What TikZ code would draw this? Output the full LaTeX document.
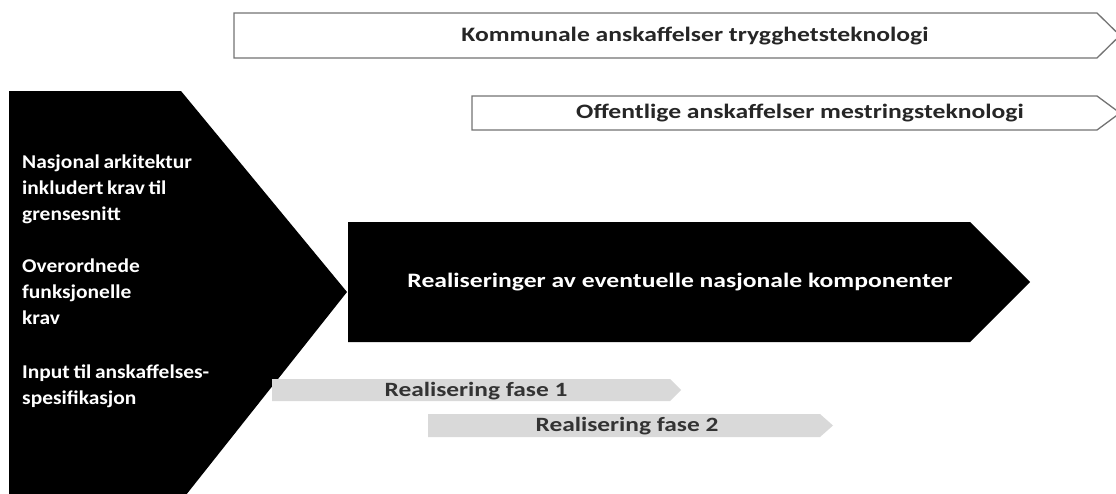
\documentclass[tikz,border=0pt]{standalone}
\usepackage{fontspec}
\setmainfont{Carlito}[FakeStretch=1.25]
\newfontfamily\sidefont{Carlito}[FakeStretch=1.1,WordSpace=0.75]
\begin{document}
\begin{tikzpicture}[x=1pt,y=-1pt,
  outlinearrow/.style={draw=black!55,line width=1.3pt,fill=white},
  blackshape/.style={fill=black},
  greyarrow/.style={fill=black!15},
  darklabel/.style={font=\bfseries\fontsize{20.5}{24}\selectfont,text=black!85,inner sep=0pt},
  lightlabel/.style={font=\bfseries\fontsize{20.5}{24}\selectfont,text=white,inner sep=0pt},
  sidelabel/.style={font=\sidefont\bfseries\fontsize{19.5}{25.8}\selectfont,text=white,align=left,anchor=north west,inner sep=0pt},
  phaselabel/.style={font=\bfseries\fontsize{20.3}{24}\selectfont,text=black!80,inner sep=0pt}]
\useasboundingbox (0,0) rectangle (1116,493);
\begin{scope}
\clip (0,0) rectangle (1116,493);
% upper procurement bands
\draw[outlinearrow] (234,13) -- (1097,13) -- (1120,35.5) -- (1097,58) -- (234,58) -- cycle;
\draw[outlinearrow] (472,96) -- (1097,96) -- (1120,113) -- (1097,130) -- (472,130) -- cycle;
% national input chevron
\fill[blackshape] (9,91) -- (181,91) -- (347,292) -- (182,500) -- (9,500) -- cycle;
% national components
\fill[blackshape] (348,222) -- (970,222) -- (1030,282) -- (970,342) -- (348,342) -- cycle;
% realisation phases
\fill[greyarrow] (272,379) -- (670,379) -- (681,390) -- (670,401) -- (272,401) -- cycle;
\fill[greyarrow] (428,414) -- (820,414) -- (833,425.5) -- (820,437) -- (428,437) -- cycle;
\end{scope}
\node[darklabel] (kommunal) at (695,36) {Kommunale anskaffelser trygghetsteknologi};
\node[darklabel] (offentlig) at (800,113) {Offentlige anskaffelser mestringsteknologi};
\node[sidelabel] (arkitektur) at (22,155) {Nasjonal arkitektur\\inkludert krav til\\grensesnitt};
\node[sidelabel] (funksjonell) at (22,259) {Overordnede\\funksjonelle\\krav};
\node[sidelabel] (input) at (22,365) {Input til anskaffelses-\\spesifikasjon};
\node[lightlabel] (komponenter) at (680,282) {Realiseringer av eventuelle nasjonale komponenter};
\node[phaselabel] (fase1) at (476,391) {Realisering fase 1};
\node[phaselabel] (fase2) at (627,426) {Realisering fase 2};
\end{tikzpicture}
\end{document}
